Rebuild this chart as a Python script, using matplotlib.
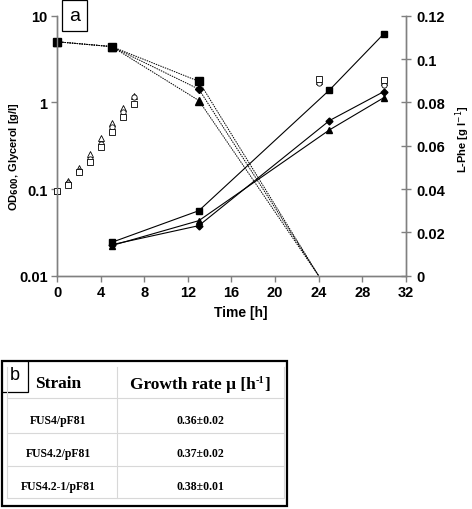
import numpy as np
import matplotlib
matplotlib.use('Agg')
import matplotlib.pyplot as plt
from matplotlib.patches import Rectangle
from matplotlib.ticker import FixedLocator, NullLocator

plt.rcParams['font.family'] = ['Liberation Sans', 'DejaVu Sans']

# --- data ---
# OD600 (open markers, left axis)
od_time = [0, 1, 2, 3, 4, 5, 6, 7, 24, 30]
od_tri = [0.096, 0.123, 0.174, 0.254, 0.385, 0.578, 0.86, 1.17, 1.78, 1.70]
od_circ = [0.096, 0.118, 0.163, 0.222, 0.331, 0.516, 0.78, 1.15, 1.68, 1.59]
od_sq = [0.094, 0.110, 0.156, 0.207, 0.308, 0.459, 0.673, 0.96, 1.86, 1.82]

# Glycerol (filled markers, dotted lines, left axis)
gly_time = [0, 5, 13, 24]
gly_sq = [5.0, 4.4, 1.75, 0.01]
gly_dia = [5.0, 4.4, 1.42, 0.01]
gly_tri = [5.0, 4.4, 1.05, 0.01]

# L-Phe (filled markers, solid lines, right axis)
phe_time = [5, 13, 25, 30]
phe_sq = [0.0154, 0.030, 0.0857, 0.1117]
phe_dia = [0.0143, 0.0231, 0.0716, 0.0850]
phe_tri = [0.0139, 0.0254, 0.0673, 0.0822]

# growth rate table
strains = ['FUS4/pF81', 'FUS4.2/pF81', 'FUS4.2-1/pF81']
rates = ['0.36\u00b10.02', '0.37\u00b10.02', '0.38\u00b10.01']

fig = plt.figure(figsize=(4.72, 5.10), dpi=100)
W, H = 472.0, 510.0
ax_l, ax_r, ax_t, ax_b = 57.3, 405.7, 16.7, 276.7
ax = fig.add_axes([ax_l / W, 1 - ax_b / H, (ax_r - ax_l) / W, (ax_b - ax_t) / H])
ax2 = ax.twinx()

spine_c = '#808080'

# OD600
ms_open = 4.3
ax.plot(od_time, od_tri, '^', ms=ms_open, mfc='white', mec='black', mew=0.6, ls='none', clip_on=False, zorder=5)
ax.plot(od_time, od_circ, 'o', ms=ms_open - 0.5, mfc='white', mec='black', mew=0.6, ls='none', clip_on=False, zorder=5)
ax.plot(od_time, od_sq, 's', ms=ms_open, mfc='white', mec='black', mew=0.6, ls='none', clip_on=False, zorder=5)

# glycerol
dot = (0, (1.5, 1))
ax.plot(gly_time, gly_tri, color='black', lw=0.7, ls=dot, marker='^', ms=5.2, markevery=[0, 1, 2], clip_on=False, zorder=5)
ax.plot(gly_time, gly_dia, color='black', lw=0.7, ls=dot, marker='D', ms=4, markevery=[0, 1, 2], clip_on=False, zorder=5)
ax.plot(gly_time, gly_sq, color='black', lw=0.7, ls=dot, marker='s', ms=5.2, markevery=[0, 1, 2], clip_on=False, zorder=5)

# L-Phe
ax2.plot(phe_time, phe_tri, color='black', lw=0.8, marker='^', ms=4.5)
ax2.plot(phe_time, phe_dia, color='black', lw=0.8, marker='D', ms=3.5)
ax2.plot(phe_time, phe_sq, color='black', lw=0.8, marker='s', ms=4.8)

ax.set_yscale('log')
ax.set_ylim(0.01, 10)
ax.set_xlim(0, 32)
ax2.set_ylim(0, 0.12)
ax.set_xticks(np.arange(0, 33, 4))
ax.yaxis.set_major_locator(FixedLocator([0.01, 0.1, 1, 10]))
ax.yaxis.set_minor_locator(NullLocator())
ax.set_yticklabels(['0.01', '0.1', '1', '10'])
ax2.set_yticks([0, 0.02, 0.04, 0.06, 0.08, 0.1, 0.12])
ax2.set_yticklabels(['0', '0.02', '0.04', '0.06', '0.08', '0.1', '0.12'])

for a in (ax, ax2):
    for s in a.spines.values():
        s.set_color(spine_c)
        s.set_linewidth(1.0)
    a.spines['top'].set_visible(False)
    for lab in a.get_xticklabels() + a.get_yticklabels():
        lab.set_fontweight('bold')
        lab.set_fontsize(10.5)

ax.tick_params(axis='both', direction='out', length=4, width=1, color=spine_c, pad=3)
ax2.tick_params(axis='y', direction='inout', length=7, width=1, color=spine_c, pad=4)

# axis titles, placed in pixels like the reference
fig.text(241 / W, 1 - 313 / H, 'Time [h]', fontsize=10, fontweight='bold', ha='center', va='center')
fig.text(14 / W, 1 - 157 / H, 'OD$_{\\mathbf{600}}$, Glycerol [g/l]', fontsize=8, fontweight='bold',
         rotation=90, ha='center', va='center')
fig.text(463 / W, 1 - 139 / H, 'L-Phe [g l$^{\\mathsf{-1}}$]', fontsize=8, fontweight='bold',
         rotation=90, ha='center', va='center')

# panel label a
fig.patches.append(Rectangle((62.3 / W, 1 - 31.7 / H), 25 / W, 30.7 / H,
                             transform=fig.transFigure, fc='white', ec='black', lw=0.9))
fig.text(74.8 / W, 1 - 16.5 / H, 'a', ha='center', va='center', fontsize=14)

# table b
serif = 'Liberation Serif'
fig.patches.append(Rectangle((2 / W, 1 - 507 / H), 285 / W, 145 / H,
                             transform=fig.transFigure, fc='white', ec='black', lw=1.6))
grid_c = '#d8d8d8'
for yy in [399.3, 433.7, 467.0, 499.3]:
    fig.add_artist(plt.Line2D([7.3 / W, 284 / W], [1 - yy / H, 1 - yy / H], color=grid_c, lw=0.8))
for xx in [7.3, 116.7, 284]:
    fig.add_artist(plt.Line2D([xx / W, xx / W], [1 - 368 / H, 1 - 499.3 / H], color=grid_c, lw=0.8))

fig.text(58 / W, 1 - 384 / H, 'Strain', family=serif, fontweight='bold', fontsize=12.5, ha='center', va='center')

# header with a small hyphen superscript, built from pieces
renderer = fig.canvas.get_renderer()
pieces = [('Growth rate \u03bc [h', 12.5, 0), ('-1', 7.5, 6), (']', 12.5, 0)]
widths = []
for txt, fs, dy in pieces:
    t = fig.text(0, 0, txt, family=serif, fontweight='bold', fontsize=fs)
    widths.append(t.get_window_extent(renderer).width)
    t.remove()
x0 = 200 - sum(widths) / 2
for (txt, fs, dy), w in zip(pieces, widths):
    fig.text(x0 / W, 1 - (389 - dy) / H, txt, family=serif, fontweight='bold', fontsize=fs, ha='left', va='baseline')
    x0 += w

row_y = [421, 454, 487]
for s, r, yy in zip(strains, rates, row_y):
    fig.text(58 / W, 1 - yy / H, s, family=serif, fontweight='bold', fontsize=8.5, ha='center', va='center')
    fig.text(200 / W, 1 - yy / H, r, family=serif, fontweight='bold', fontsize=8.5, ha='center', va='center')

fig.patches.append(Rectangle((2 / W, 1 - 393 / H), 26 / W, 31 / H,
                             transform=fig.transFigure, fc='white', ec='black', lw=0.9))
fig.text(15 / W, 1 - 375 / H, 'b', ha='center', va='center', fontsize=13)

fig.savefig('out.png', dpi=100)
